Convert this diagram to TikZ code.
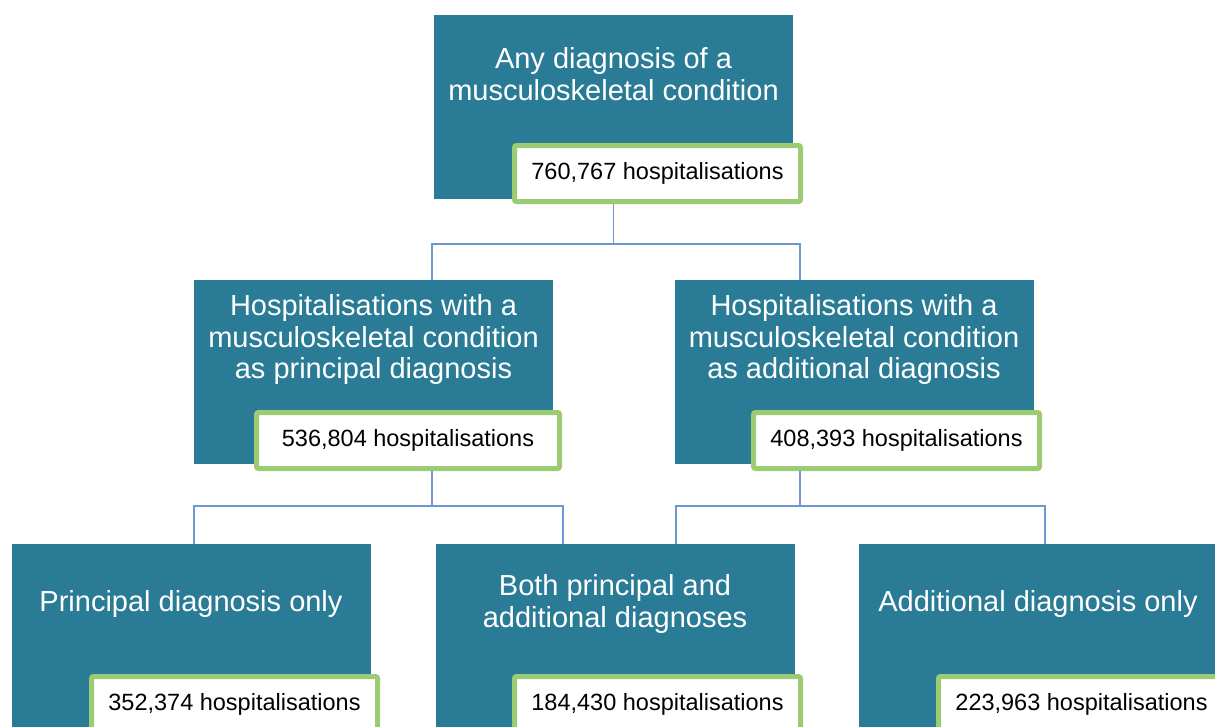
\documentclass[tikz,border=0pt]{standalone}
\usepackage{fontspec}
\setmainfont{Liberation Sans}
\definecolor{groupteal}{HTML}{2A7B95}
\definecolor{countgreen}{HTML}{9BCB72}
\definecolor{linkblue}{HTML}{6C9AD0}

\tikzset{
  groupbox/.style={fill=groupteal, minimum width=359pt, minimum height=184pt, inner sep=0pt},
  headtext/.style={text=white, align=center, inner sep=0pt, font=\fontsize{29}{31.5}\selectfont},
  countbox/.style={draw=countgreen, line width=5pt, fill=white, rounded corners=2pt,
    minimum width=286pt, minimum height=56pt, inner sep=0pt, font=\fontsize{23.5}{26}\selectfont},
  link/.style={draw=linkblue, line width=1.5pt}
}

\begin{document}
\begin{tikzpicture}[x=1pt, y=-1pt]
    \useasboundingbox (0,0) rectangle (1215,726);

    % Groups
    \node[groupbox] (any) at (613.5,106.5) {};
    \node[groupbox] (prin) at (373.5,372) {};
    \node[groupbox] (addl) at (854,372) {};
    \node[groupbox] (prinonly) at (191,636) {};
    \node[groupbox] (both) at (615,636) {};
    \node[groupbox] (addlonly) at (1038,636) {};

    \node[headtext] (any-t) at ([yshift=-60pt]any.north) {Any diagnosis of a\\musculoskeletal condition};
    \node[headtext] (prin-t) at ([yshift=-60pt]prin.north) {Hospitalisations with a\\musculoskeletal condition\\as principal diagnosis};
    \node[headtext] (addl-t) at ([yshift=-60pt]addl.north) {Hospitalisations with a\\musculoskeletal condition\\as additional diagnosis};
    \node[headtext] (prinonly-t) at ([yshift=-60pt]prinonly.north) {Principal diagnosis only};
    \node[headtext] (both-t) at ([yshift=-60pt]both.north) {Both principal and\\additional diagnoses};
    \node[headtext] (addlonly-t) at ([yshift=-60pt]addlonly.north) {Additional diagnosis only};

    % Counts
    \node[countbox] (any-n) at (657.5,173.5) {760,767 hospitalisations};
    \node[countbox, minimum width=303pt] (prin-n) at (408,440.5) {536,804 hospitalisations};
    \node[countbox] (addl-n) at (896.5,440.5) {408,393 hospitalisations};
    \node[countbox] (prinonly-n) at (234.5,704.5) {352,374 hospitalisations};
    \node[countbox] (both-n) at (657.5,704.5) {184,430 hospitalisations};
    \node[countbox] (addlonly-n) at (1081.5,704.5) {223,963 hospitalisations};

    % Connectors
    \coordinate (prin-in) at (432,280);
    \coordinate (addl-in) at (800,280);
    \coordinate (prinonly-in) at (194,544);
    \coordinate (both-inl) at (563,544);
    \coordinate (both-inr) at (676,544);
    \coordinate (addlonly-in) at (1045,544);
    \draw[link] (any-n.south -| any.south) -- ++(0,40) coordinate (fork1) -| (prin-in) (fork1) -| (addl-in);
    \draw[link] (prin-n.south -| prin-in) -- ++(0,35) coordinate (fork2) -| (prinonly-in) (fork2) -| (both-inl);
    \draw[link] (addl-n.south -| addl-in) -- ++(0,35) coordinate (fork3) -| (both-inr) (fork3) -| (addlonly-in);
\end{tikzpicture}
\end{document}
